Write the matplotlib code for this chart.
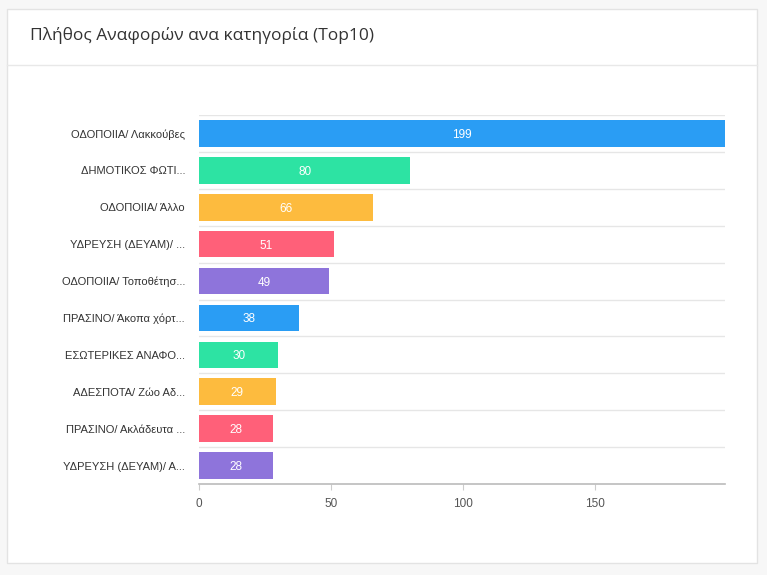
import matplotlib
matplotlib.use("Agg")
import matplotlib.pyplot as plt
from matplotlib.patches import Rectangle
from matplotlib.lines import Line2D

categories = [
    "ΟΔΟΠΟΙΙΑ/ Λακκούβες",
    "ΔΗΜΟΤΙΚΟΣ ΦΩΤΙ...",
    "ΟΔΟΠΟΙΙΑ/ Άλλο",
    "ΥΔΡΕΥΣΗ (ΔΕΥΑΜ)/ ...",
    "ΟΔΟΠΟΙΙΑ/ Τοποθέτησ...",
    "ΠΡΑΣΙΝΟ/ Άκοπα χόρτ...",
    "ΕΣΩΤΕΡΙΚΕΣ ΑΝΑΦΟ...",
    "ΑΔΕΣΠΟΤΑ/ Ζώο Αδ...",
    "ΠΡΑΣΙΝΟ/ Ακλάδευτα ...",
    "ΥΔΡΕΥΣΗ (ΔΕΥΑΜ)/ Α...",
]
values = [199, 80, 66, 51, 49, 38, 30, 29, 28, 28]
palette = ["#2A9DF4", "#2DE3A3", "#FDBB3E", "#FF6079", "#8E74DB"]
xticks = [0, 50, 100, 150]
title = "Πλήθος Αναφορών ανα κατηγορία (Top10)"

plt.rcParams['font.family'] = ['Open Sans', 'DejaVu Sans']
sans = ["Liberation Sans", "DejaVu Sans"]

fig = plt.figure(figsize=(7.67, 5.75), dpi=100)
fig.patch.set_facecolor("#f7f7f7")

# card
card = Rectangle((7/767, 1-563/575), 750/767, 554/575, transform=fig.transFigure,
                 facecolor="white", edgecolor="#e3e3e3", linewidth=1, zorder=0)
fig.add_artist(card)
fig.add_artist(Line2D([7/767, 757/767], [1-65/575, 1-65/575], transform=fig.transFigure,
                      color="#e8e8e8", linewidth=1))
fig.text(30/767, 1-35/575, title, fontsize=12.5, color="#333333", va="center", ha="left")

ax = fig.add_axes([199/767, 1-484/575, 526/767, 369/575])
ax.set_facecolor("none")
colors = [palette[i % len(palette)] for i in range(len(values))]
ypos = list(range(len(categories)))
ax.barh(ypos, values, height=0.72, color=colors, zorder=3)
ax.set_ylim(len(categories) - 0.5, -0.5)
ax.set_xlim(0, 199)

for y, v in zip(ypos, values):
    ax.text(v / 2, y, str(v), color="white", ha="center", va="center_baseline", fontsize=8.5,
            fontfamily=sans, zorder=4)

for b in [i - 0.5 for i in range(len(categories))]:
    ax.axhline(b, color="#e6e6e6", linewidth=1, zorder=1)

ax.set_yticks(ypos)
ax.set_yticklabels(categories, fontsize=8, color="#333333", fontfamily=sans)
ax.tick_params(axis="y", length=0, pad=10)
ax.set_xticks(xticks)
ax.set_xticklabels([str(t) for t in xticks], fontsize=8.5, color="#555555", fontfamily=sans)
ax.tick_params(axis="x", length=4, color="#cccccc", pad=6)
for s in ["top", "right", "left"]:
    ax.spines[s].set_visible(False)
ax.spines["bottom"].set_color("#bbbbbb")
ax.spines["bottom"].set_linewidth(1.2)

fig.savefig("out.png", dpi=100, facecolor=fig.get_facecolor())
